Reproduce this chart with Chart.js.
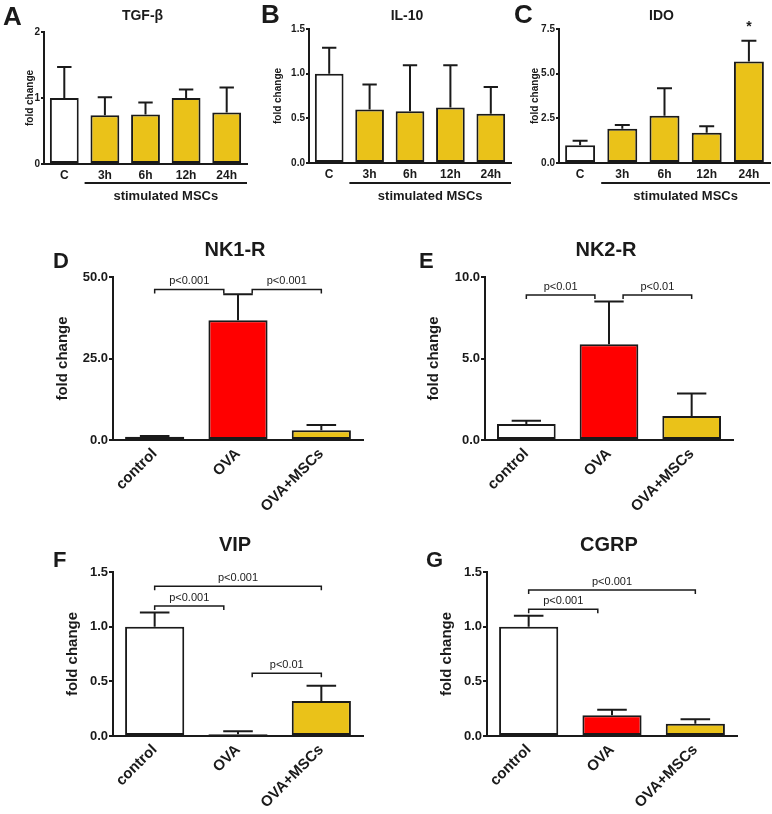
<!DOCTYPE html>
<html>
<head>
<meta charset="utf-8">
<script src="https://cdn.jsdelivr.net/npm/chart.js@4.4.0/dist/chart.umd.min.js"></script>
<style>
body { margin: 0; background: #fff; width: 772px; height: 814px; position: relative; overflow: hidden; }
canvas { position: absolute; }
</style>
</head>
<body>
<script>
// Categorias
var horas = ['C', '3h', '6h', '12h', '24h'];
var grupos = ['control', 'OVA', 'OVA+MSCs'];

// Médias e erro (parte de cima da barra de erro)
var tgfMedia = [1.0, 0.74, 0.75, 1.0, 0.78];
var tgfErro = [0.47, 0.27, 0.18, 0.13, 0.38];
var il10Media = [1.0, 0.60, 0.58, 0.62, 0.55];
var il10Erro = [0.29, 0.28, 0.515, 0.475, 0.30];
var idoMedia = [1.0, 1.92, 2.64, 1.69, 5.68];
var idoErro = [0.24, 0.20, 1.54, 0.37, 1.16];
var idoMarca = ['', '', '', '', '*'];

var nk1Media = [1.0, 36.7, 3.0];
var nk1Erro = [0.2, 8.0, 1.6];
var nk2Media = [0.98, 5.88, 1.47];
var nk2Erro = [0.2, 2.61, 1.39];
var vipMedia = [1.0, 0.015, 0.32];
var vipErro = [0.13, 0.028, 0.14];
var cgrpMedia = [1.0, 0.19, 0.113];
var cgrpErro = [0.10, 0.05, 0.04];

// Comparações: [de, até, nível, texto]
var nk1Comp = [[0, 1, 46.2, 'p<0.001'], [1, 2, 46.2, 'p<0.001']];
var nk2Comp = [[0, 1, 8.9, 'p<0.01'], [1, 2, 8.9, 'p<0.01']];
var vipComp = [[0, 2, 1.37, 'p<0.001'], [0, 1, 1.19, 'p<0.001'], [1, 2, 0.573, 'p<0.01']];
var cgrpComp = [[0, 2, 1.335, 'p<0.001'], [0, 1, 1.16, 'p<0.001']];

// Ticks do eixo y
var tgfTicks = [0, 1, 2];
var il10Ticks = [0, 0.5, 1.0, 1.5];
var idoTicks = [0, 2.5, 5.0, 7.5];
var nk1Ticks = [0, 25, 50];
var nk2Ticks = [0, 5, 10];
var vipTicks = [0, 0.5, 1.0, 1.5];
var cgrpTicks = [0, 0.5, 1.0, 1.5];

var AMARELO = '#eac219';
var VERMELHO = '#ff0000';
var BRANCO = '#ffffff';
var PRETO = '#1a1a1a';
var FONTE = '"Liberation Sans", Arial, sans-serif';

var coresHoras = [BRANCO, AMARELO, AMARELO, AMARELO, AMARELO];
var coresGrupos = [BRANCO, VERMELHO, AMARELO];

var paineis = [
    { letra: 'A', titulo: 'TGF-β', cats: horas, media: tgfMedia, erro: tgfErro, ticks: tgfTicks, dec: 0, cores: coresHoras,
      caixa: [0, 0, 255, 210], area: [44, 32, 247, 164], letraPos: [3, 25], tituloY: 20, eixoDx: 14, topo: true },
    { letra: 'B', titulo: 'IL-10', cats: horas, media: il10Media, erro: il10Erro, ticks: il10Ticks, dec: 1, cores: coresHoras,
      caixa: [255, 0, 260, 210], area: [309, 29, 511, 163], letraPos: [261, 23], tituloY: 20, eixoDx: 31, topo: true },
    { letra: 'C', titulo: 'IDO', cats: horas, media: idoMedia, erro: idoErro, ticks: idoTicks, dec: 1, cores: coresHoras,
      caixa: [515, 0, 257, 210], area: [559, 29, 770, 163], letraPos: [514, 23], tituloY: 20, eixoDx: 24, topo: true, marcas: idoMarca },
    { letra: 'D', titulo: 'NK1-R', cats: grupos, media: nk1Media, erro: nk1Erro, ticks: nk1Ticks, dec: 1, cores: coresGrupos,
      caixa: [0, 212, 390, 303], area: [113, 277, 363, 440], letraPos: [53, 268], tituloY: 256, eixoDx: 50, comp: nk1Comp },
    { letra: 'E', titulo: 'NK2-R', cats: grupos, media: nk2Media, erro: nk2Erro, ticks: nk2Ticks, dec: 1, cores: coresGrupos,
      caixa: [390, 212, 382, 303], area: [485, 277, 733, 440], letraPos: [419, 268], tituloY: 256, eixoDx: 51, comp: nk2Comp },
    { letra: 'F', titulo: 'VIP', cats: grupos, media: vipMedia, erro: vipErro, ticks: vipTicks, dec: 1, cores: coresGrupos,
      caixa: [0, 515, 390, 299], area: [113, 572, 363, 736], letraPos: [53, 567], tituloY: 551, eixoDx: 40, comp: vipComp },
    { letra: 'G', titulo: 'CGRP', cats: grupos, media: cgrpMedia, erro: cgrpErro, ticks: cgrpTicks, dec: 1, cores: coresGrupos,
      caixa: [390, 515, 382, 299], area: [487, 572, 737, 736], letraPos: [426, 567], tituloY: 551, eixoDx: 40, comp: cgrpComp }
];

function criarPainel(p) {
    var c = document.createElement('canvas');
    c.width = p.caixa[2];
    c.height = p.caixa[3];
    c.style.left = p.caixa[0] + 'px';
    c.style.top = p.caixa[1] + 'px';
    c.style.width = p.caixa[2] + 'px';
    c.style.height = p.caixa[3] + 'px';
    document.body.appendChild(c);

    var ox = p.caixa[0], oy = p.caixa[1];
    var tam = p.topo
        ? { letra: 26, titulo: 14, eixo: 10, tick: 10, cat: 12 }
        : { letra: 22, titulo: 20, eixo: 15, tick: 13, cat: 15 };

    // desenha barras de erro, comparações, letra e títulos
    var extras = {
        id: 'extras',
        afterDatasetsDraw: function (chart) {
            var ctx = chart.ctx;
            var y = chart.scales.y;
            var meta = chart.getDatasetMeta(0);
            var area = chart.chartArea;
            ctx.save();
            ctx.strokeStyle = PRETO;
            ctx.fillStyle = PRETO;
            ctx.lineWidth = 2;

            meta.data.forEach(function (bar, i) {
                var yb = y.getPixelForValue(p.media[i]);
                var ye = y.getPixelForValue(p.media[i] + p.erro[i]);
                var meia = bar.width * 0.25;
                ctx.beginPath();
                ctx.moveTo(bar.x, yb);
                ctx.lineTo(bar.x, ye);
                ctx.moveTo(bar.x - meia, ye);
                ctx.lineTo(bar.x + meia, ye);
                ctx.stroke();
                if (p.marcas && p.marcas[i]) {
                    ctx.font = 'bold 14px ' + FONTE;
                    ctx.textAlign = 'center';
                    ctx.fillText(p.marcas[i], bar.x, ye - 10);
                }
            });

            if (p.comp) {
                ctx.lineWidth = 1.5;
                ctx.font = '11px ' + FONTE;
                ctx.textAlign = 'center';
                p.comp.forEach(function (k) {
                    var a = meta.data[k[0]], b = meta.data[k[1]];
                    var x1 = a.x + (k[0] === 1 ? a.width * 0.24 : 0);
                    var x2 = b.x - (k[1] === 1 ? b.width * 0.24 : 0);
                    var yy = y.getPixelForValue(k[2]);
                    ctx.beginPath();
                    ctx.moveTo(x1, yy + 4);
                    ctx.lineTo(x1, yy);
                    ctx.lineTo(x2, yy);
                    ctx.lineTo(x2, yy + 4);
                    ctx.stroke();
                    ctx.fillText(k[3], (x1 + x2) / 2, yy - 5);
                });
            }

            if (p.topo) {
                var cw = (area.right - area.left) / p.cats.length;
                var x1 = meta.data[1].x - cw / 2;
                var x2 = meta.data[p.cats.length - 1].x + cw / 2;
                var yl = 183 - oy;
                ctx.lineWidth = 2;
                ctx.beginPath();
                ctx.moveTo(x1, yl);
                ctx.lineTo(x2, yl);
                ctx.stroke();
                ctx.font = 'bold 13px ' + FONTE;
                ctx.textAlign = 'center';
                ctx.fillText('stimulated MSCs', (x1 + x2) / 2, yl + 17);
            }

            // letra do painel
            ctx.textAlign = 'left';
            ctx.font = 'bold ' + tam.letra + 'px ' + FONTE;
            ctx.fillText(p.letra, p.letraPos[0] - ox, p.letraPos[1] - oy);

            // título
            ctx.textAlign = 'center';
            ctx.font = 'bold ' + tam.titulo + 'px ' + FONTE;
            ctx.fillText(p.titulo, (area.left + area.right) / 2 - 3, p.tituloY - oy);

            // título do eixo y
            ctx.translate(area.left - p.eixoDx, (area.top + area.bottom) / 2);
            ctx.rotate(-Math.PI / 2);
            ctx.font = 'bold ' + tam.eixo + 'px ' + FONTE;
            ctx.textBaseline = 'middle';
            ctx.fillText('fold change', 0, 0);
            ctx.restore();
        }
    };

    new Chart(c.getContext('2d'), {
        type: 'bar',
        data: {
            labels: p.cats,
            datasets: [{
                data: p.media,
                backgroundColor: p.cores,
                borderColor: PRETO,
                borderWidth: 2,
                borderSkipped: false,
                barPercentage: 0.71,
                categoryPercentage: 1
            }]
        },
        options: {
            responsive: false,
            animation: false,
            devicePixelRatio: 1,
            layout: { padding: { top: p.area[1] - oy, right: ox + p.caixa[2] - p.area[2], left: 0, bottom: 0 } },
            plugins: { legend: { display: false }, tooltip: { enabled: false } },
            scales: {
                x: {
                    grid: { display: false, drawTicks: false },
                    border: { display: true, color: PRETO, width: 2 },
                    ticks: {
                        color: PRETO,
                        font: { family: FONTE, size: tam.cat, weight: 'bold' },
                        maxRotation: p.topo ? 0 : 45,
                        minRotation: p.topo ? 0 : 45,
                        padding: p.topo ? 4 : 5
                    },
                    afterFit: function (s) { s.height = oy + p.caixa[3] - p.area[3]; }
                },
                y: {
                    min: 0,
                    max: p.ticks[p.ticks.length - 1],
                    afterBuildTicks: function (s) { s.ticks = p.ticks.map(function (v) { return { value: v }; }); },
                    grid: { drawOnChartArea: false, drawTicks: true, tickLength: p.topo ? 3 : 4, color: PRETO, lineWidth: 2 },
                    border: { display: true, color: PRETO, width: 2 },
                    ticks: {
                        color: PRETO,
                        padding: 1,
                        font: { family: FONTE, size: tam.tick, weight: 'bold' },
                        callback: function (v) { return Number(v).toFixed(p.dec); }
                    },
                    afterFit: function (s) { s.width = p.area[0] - ox; }
                }
            }
        },
        plugins: [extras]
    });
}

paineis.forEach(criarPainel);
</script>
</body>
</html>
